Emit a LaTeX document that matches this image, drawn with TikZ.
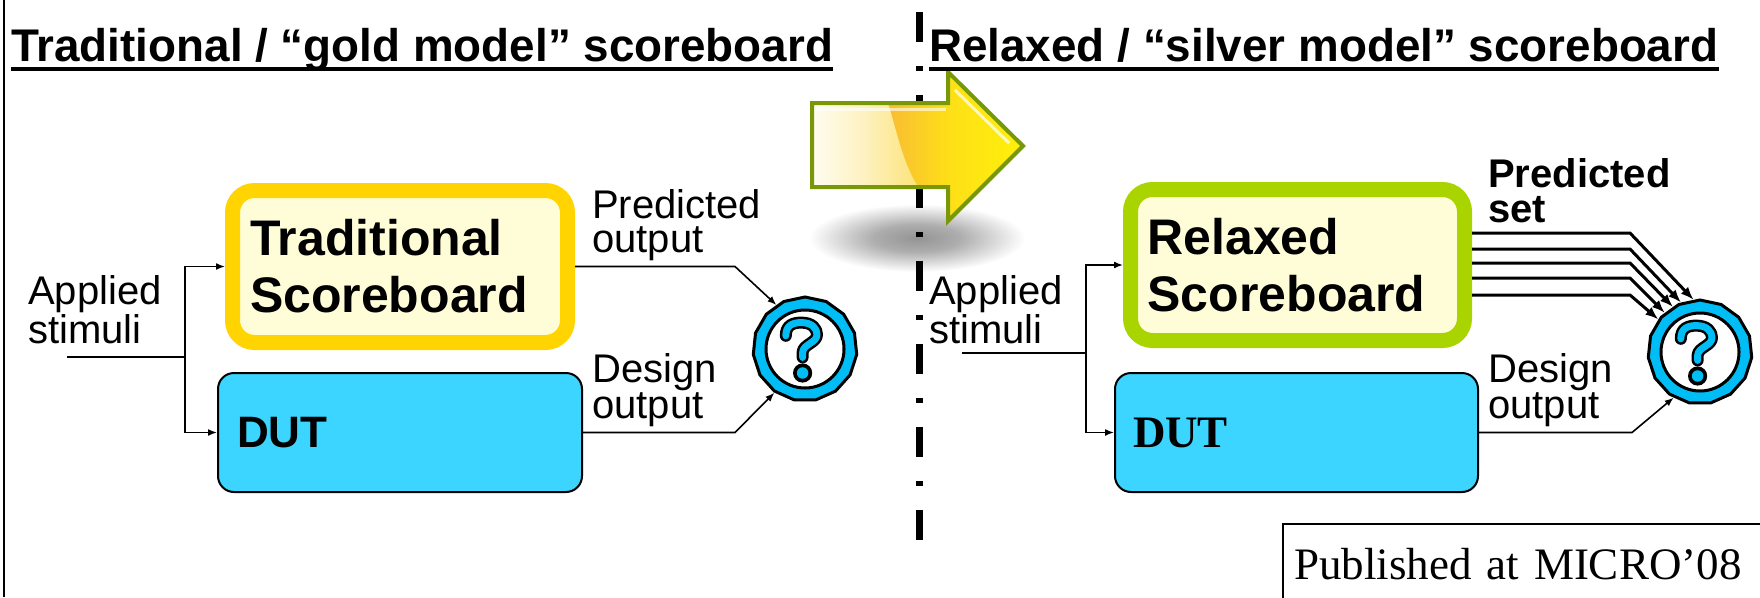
\documentclass[tikz,border=0pt]{standalone}
\usepackage{fontspec}
\setmainfont{Liberation Sans}
\newfontfamily\seriffont{Liberation Serif}
\usetikzlibrary{arrows.meta,shapes.geometric}

\definecolor{gold}{RGB}{255,212,0}
\definecolor{leafgreen}{RGB}{170,212,0}
\definecolor{paleyel}{RGB}{255,253,216}
\definecolor{dutcyan}{RGB}{59,213,255}
\definecolor{qblue}{RGB}{0,190,245}
\definecolor{olive}{RGB}{120,152,8}
\definecolor{arrorange}{RGB}{249,188,52}
\definecolor{arryellow}{RGB}{255,240,10}
\definecolor{arrpale}{RGB}{252,226,116}

\pgfdeclarehorizontalshading{arrowbody}{100bp}{color(0bp)=(arrorange); color(43bp)=(arrorange); color(58bp)=(arryellow!70!arrorange); color(75bp)=(arryellow); color(100bp)=(arryellow)}
\pgfdeclarehorizontalshading{arrowpale}{100bp}{color(0bp)=(white); color(25bp)=(arrpale!6); color(50bp)=(arrpale!45); color(75bp)=(arrpale); color(100bp)=(arrpale)}
\pgfdeclareradialshading{arrowshadow}{\pgfpoint{0bp}{0bp}}{color(0bp)=(black!42); color(10bp)=(black!32); color(25bp)=(white); color(50bp)=(white)}

\def\arrowpath{(812,103) -- (948,103) -- (948,72) -- (1023,146) -- (948,221) -- (948,187) -- (812,187) -- cycle}

\newcommand\qglyph[1]{%
  \begin{scope}[shift={(#1)}, scale=1.2]
    \draw[line width=12pt, line cap=round, line join=round] (-16,-11) .. controls (-16,-20) and (-10,-22) .. (-3,-22) .. controls (6,-22) and (10,-17) .. (10,-12) .. controls (10,-5) and (-2,-4) .. (-2,3) -- (-2,7);
    \draw[qblue, line width=7pt, line cap=round, line join=round] (-16,-11) .. controls (-16,-20) and (-10,-22) .. (-3,-22) .. controls (6,-22) and (10,-17) .. (10,-12) .. controls (10,-5) and (-2,-4) .. (-2,3) -- (-2,7);
    \fill (-2,20) circle[radius=8pt];
    \fill[qblue] (-2,20) circle[radius=4.8pt];
  \end{scope}}

\begin{document}
\begin{tikzpicture}[x=1pt,y=-1pt,
    title/.style={font=\bfseries\fontsize{45.8}{50}\selectfont, inner sep=0pt, anchor=base west},
    label/.style={font=\fontsize{40}{34}\selectfont, align=left, inner sep=0pt, anchor=base west},
    sbox/.style={rounded corners=22pt, line width=15pt, fill=paleyel, inner sep=0pt, text width=300pt, align=left, font=\bfseries\fontsize{50}{57}\selectfont},
    dutbox/.style={rounded corners=16pt, draw, line width=2pt, fill=dutcyan, inner sep=0pt, align=left, minimum height=119pt},
    qmark/.style={regular polygon, regular polygon sides=15, minimum size=104pt, inner sep=0pt, draw, line width=3pt, fill=qblue},
    wire/.style={line width=1.6pt, -{Latex[length=9pt,width=7pt]}},
    setwire/.style={line width=3pt, -{Latex[length=13pt,width=10pt]}}]
	\useasboundingbox (0,0) rectangle (1760,597);
	\draw[line width=1.5pt] (4,0) -- (4,597);

	% shadow, divider and the big arrow
	\shade[shading=arrowshadow] (917,238) ellipse[x radius=108, y radius=34];
	\draw[line width=7pt, dash pattern=on 30pt off 24pt on 5pt off 24pt] (919,12) -- (919,540);
	\shade[shading=arrowbody] \arrowpath;
	\begin{scope}
		\clip \arrowpath;
		\shade[shading=arrowpale] (805,95) -- (888,95) -- (888,103) .. controls (896,128) and (904,170) .. (922,192) -- (805,192) -- cycle;
		\draw[white, opacity=.6, line width=3pt] (816,109) -- (946,109);
		\draw[white, opacity=.7, line width=3pt] (955,90) -- (1009,143);
	\end{scope}
	\draw[olive, line width=4pt, line join=miter] \arrowpath;

	% titles
	\node[title] (ttitle) at (11,61) {Traditional / “gold model” scoreboard};
	\draw[line width=3.5pt] ([yshift=-8pt]ttitle.base west) -- ([yshift=-8pt]ttitle.base east);
	\node[title] (rtitle) at (929,61) {Relaxed / “silver model” scoreboard};
	\draw[line width=3.5pt] ([yshift=-8pt]rtitle.base west) -- ([yshift=-8pt]rtitle.base east);

	% gold model side
	\node[sbox, draw=gold, minimum width=335pt, minimum height=152pt] (tsb) at (400,266.5) {Traditional\\Scoreboard};
	\node[dutbox, text width=326pt, minimum width=364pt, font=\bfseries\fontsize{44}{48}\selectfont] (tdut) at (400,432.5) {DUT};
	\node[qmark] (tq) at (805,349) {};
	\draw[line width=3pt, fill=white] (tq.center) circle[radius=39pt];
	\qglyph{tq.center}
	\node[label] (tapp) at (28,343) {Applied\\stimuli};
	\node[label] (tpred) at (592,252) {Predicted\\output};
	\node[label] (tdes) at (592,418) {Design\\output};
	\coordinate (tin) at (67,357);
	\coordinate (tbus) at (185,357);
	\draw[line width=1.6pt] (tin) -- (tbus);
	\draw[wire] (tbus) |- (tsb.west);
	\draw[wire] (tbus) |- (tdut.west);
	\draw[wire] (tsb.east) -- ++(160,0) -- (tq.123);
	\draw[wire] (tdut.east) -- ++(152,0) -- (tq.235);

	% silver model side
	\node[sbox, draw=leafgreen, minimum width=334pt, minimum height=151pt] (rsb) at (1297.5,265) {Relaxed\\Scoreboard};
	\node[dutbox, text width=327pt, minimum width=363pt, font=\seriffont\bfseries\fontsize{45}{48}\selectfont] (rdut) at (1296.5,432.5) {DUT};
	\node[qmark] (rq) at (1700,352) {};
	\draw[line width=3pt, fill=white] (rq.center) circle[radius=39pt];
	\qglyph{rq.center}
	\node[label] (rapp) at (929,343) {Applied\\stimuli};
	\node[label, font=\bfseries\fontsize{40}{35}\selectfont] (rpred) at (1488,222) {Predicted\\set};
	\node[label] (rdes) at (1488,418) {Design\\output};
	\coordinate (rin) at (962,353);
	\coordinate (rbus) at (1086,353);
	\draw[line width=1.6pt] (rin) -- (rbus);
	\draw[wire] (rbus) |- (rsb.west);
	\draw[wire] (rbus) |- (rdut.west);
	\foreach \dy/\ang in {-32/97,-16/111,-2/121,13/132,30/142}
		\draw[setwire] ([shift={(0,\dy)}]rsb.east) -- ++(158,0) -- (rq.\ang);
	\draw[wire] (rdut.east) -- ++(153,0) -- (rq.240);

	\node[draw, line width=2pt, anchor=north west, minimum width=490pt, minimum height=80pt, text width=468pt, inner xsep=11pt, align=left, font=\seriffont\fontsize{45}{50}\selectfont] (pub) at (1282,523) {Published at MICRO’08};
\end{tikzpicture}
\end{document}
